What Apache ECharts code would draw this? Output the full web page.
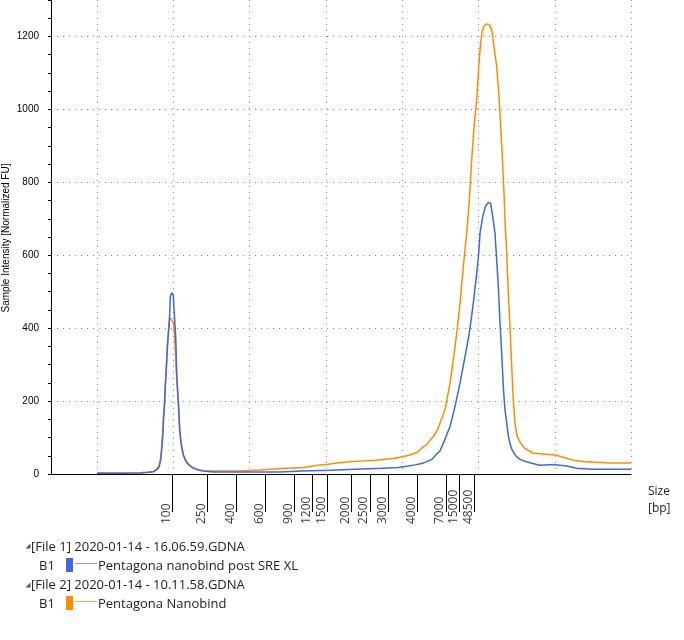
<!DOCTYPE html>
<html>
<head>
<meta charset="utf-8">
<script src="https://cdn.jsdelivr.net/npm/echarts@6/dist/echarts.min.js"></script>
<style>
html,body{margin:0;padding:0;background:#fff;}
#c{width:684px;height:640px;}
</style>
</head>
<body>
<div id="c"></div>
<script>
// migration position (arbitrary units along the trace) and ladder sizes
var ladderPos = [121.3, 156.3, 185.7, 214.3, 243.3, 261.3, 276.3, 300.7, 319, 337.3, 366.3, 395, 408.3, 423.3];
var ladderLabels = ['100', '250', '400', '600', '900', '1200', '1500', '2000', '2500', '3000', '4000', '7000', '15000', '48500'];
var gridPos = [46.3, 122.3, 198.3, 275.3, 351.3, 427.3, 504.3, 580];

// File 1: Pentagona nanobind post SRE XL
var blueX = [46, 69, 89, 95.7, 102.3, 106.3, 108.3, 109.7, 110.7, 111.7, 112.7, 113.7, 114.3, 115.3, 116.3, 117.7, 118.7, 119.3, 120.7, 121.3, 122.3, 123, 123.7, 124.7, 125.7, 126.7, 127.7, 128.7, 129.7, 130.7, 132.3, 134, 135.7, 139, 142.3, 147.3, 152.3, 162.3, 189, 209, 229, 250.7, 279, 310.7, 330.7, 347.3, 357.3, 364, 370.7, 375.7, 380.7, 385.7, 389, 392.3, 399, 404, 409, 414, 418.3, 422.3, 425.7, 427.7, 429, 431.7, 434.3, 437.3, 439.7, 441.7, 444, 445.7, 447.3, 449, 450.7, 452.3, 454, 455.7, 457.3, 459, 460.7, 463, 465.7, 469, 474, 479, 485.7, 489, 502.3, 515.7, 525.7, 542.3, 580];
var blueY = [2, 2, 2.5, 4, 6, 13, 20, 38, 66, 102, 157, 194, 244, 285, 349, 395, 441, 486, 497, 499, 491, 454, 422, 377, 276, 226, 185, 121, 93, 75, 52, 40, 31, 22, 16, 11, 8, 5.5, 5.5, 5.5, 5.5, 8, 10, 14, 16, 18, 22, 25, 29, 34, 40, 55, 63, 84, 130, 185, 249, 322, 386, 468, 550, 605, 660, 706, 733, 745, 742, 706, 660, 587, 514, 415, 331, 239, 175, 140, 105, 84, 68, 57, 47, 40, 35, 31, 26, 24, 26, 22, 16, 13, 13];

// File 2: Pentagona Nanobind
var orangeX = [46, 69, 89, 93, 98, 102.3, 106, 108, 109.5, 110.5, 111.5, 112.5, 113.5, 114.5, 115.5, 116.5, 117.5, 118.5, 119.5, 121.3, 122.3, 123, 124, 125, 126, 127, 128, 129, 130, 131, 132.5, 134, 136, 139, 142.3, 147.3, 152.3, 162.3, 189, 209, 222.3, 235.7, 252.3, 260.7, 269, 277.3, 285.7, 295.7, 312.3, 325.7, 335.7, 344, 352.3, 359, 365.7, 369, 372.3, 375.7, 379, 382.3, 384, 386.3, 388.3, 389, 394, 399, 402.3, 405.7, 409, 412.3, 415.7, 418.3, 420.7, 423, 425.7, 427.7, 429.3, 431, 433, 435.7, 438.3, 440.7, 443, 445.7, 448, 449.7, 451.3, 453, 454.3, 455.7, 457.3, 459, 460.7, 462.3, 464, 466.3, 469.7, 474, 482.3, 492.3, 504, 512.3, 522.3, 532.3, 559, 580];
var orangeY = [2.5, 2.5, 3, 5, 5, 7, 14, 24, 42, 70, 108, 160, 205, 250, 300, 350, 395, 420, 428, 425, 415, 400, 360, 300, 250, 205, 150, 110, 88, 70, 52, 42, 32, 23, 17, 12, 9, 8, 8, 11, 14, 16, 18, 21, 25, 27, 30, 33, 36, 38, 41, 43, 48, 52, 59, 66, 75, 80, 93, 102, 107, 121, 134, 140, 176, 249, 313, 386, 468, 569, 660, 751, 861, 952, 1026, 1117, 1172, 1213, 1229, 1234, 1233, 1218, 1172, 1117, 1035, 952, 870, 770, 678, 605, 496, 404, 294, 203, 139, 102, 84, 70, 57, 55, 52, 46, 38, 34, 30, 30];

var yTicks = {min: 0, max: 1300, interval: 200, minorInterval: 50};

function pairs(xs, ys) { return xs.map(function (x, i) { return [x, ys[i]]; }); }

var FONT = '"Open Sans", "Noto Sans", sans-serif';
var AFONT = '"Liberation Sans", Arial, sans-serif';
var dotted = {color: '#8a8a8a', width: 1, type: [1, 5]};

var chart = echarts.init(document.getElementById('c'), null, {renderer: 'canvas'});
chart.setOption({
  animation: false,
  backgroundColor: '#fff',
  grid: {left: 51, top: 0, right: 53, bottom: 166, containLabel: false, outerBoundsMode: 'none'},
  xAxis: [{
    type: 'value', min: 0, max: 580,
    axisLine: {show: true, lineStyle: {color: '#000', width: 1}},
    axisTick: {show: false, customValues: gridPos},
    axisLabel: {show: false},
    splitLine: {show: true, lineStyle: dotted}
  }, {
    type: 'value', min: 0, max: 580, position: 'bottom', offset: 13,
    axisLine: {show: false},
    axisTick: {show: true, inside: false, length: 38, customValues: ladderPos, lineStyle: {color: '#000', width: 1}},
    axisLabel: {
      show: true, customValues: ladderPos, rotate: 90, margin: 37, align: 'left', verticalAlign: 'bottom',
      fontFamily: FONT, fontSize: 12, color: '#3a3a3a',
      formatter: function (v) {
        for (var i = 0; i < ladderPos.length; i++) { if (Math.abs(ladderPos[i] - v) < 0.01) return ladderLabels[i]; }
        return '';
      }
    },
    splitLine: {show: false}
  }],
  yAxis: [{
    type: 'value', min: yTicks.min, max: yTicks.max, interval: yTicks.interval,
    axisLine: {show: true, lineStyle: {color: '#000', width: 1}},
    axisTick: {show: true, length: 3, lineStyle: {color: '#000'}},
    axisLabel: {show: true, margin: 12, showMaxLabel: false, fontFamily: AFONT, fontSize: 10, color: '#000',
      formatter: function (v) { return String(v); }},
    splitLine: {show: true, showMaxLine: false, lineStyle: dotted}
  }, {
    type: 'value', min: yTicks.min, max: yTicks.max, interval: yTicks.minorInterval, position: 'left',
    axisLine: {show: false},
    axisTick: {show: true, length: 3, lineStyle: {color: '#000'}},
    axisLabel: {show: false},
    splitLine: {show: false}
  }],
  series: [{
    name: 'Pentagona Nanobind', type: 'line', xAxisIndex: 0, yAxisIndex: 0,
    data: pairs(orangeX, orangeY), showSymbol: false, symbol: 'none',
    lineStyle: {color: '#FF8C00', width: 1.5}, z: 2
  }, {
    name: 'Pentagona nanobind post SRE XL', type: 'line', xAxisIndex: 0, yAxisIndex: 0,
    data: pairs(blueX, blueY), showSymbol: false, symbol: 'none',
    lineStyle: {color: '#3F68E0', width: 1.5}, z: 3
  }],
  graphic: [
    {type: 'text', x: 6.5, y: 238, rotation: Math.PI / 2, style: {text: 'Sample Intensity [Normalized FU]', fontFamily: AFONT, fontSize: 10, fill: '#000', align: 'center', verticalAlign: 'middle'}},
    {type: 'text', left: 648, top: 483, style: {text: 'Size\n[bp]', fontFamily: FONT, fontSize: 12, lineHeight: 17, fill: '#222'}},
    {type: 'polygon', shape: {points: [[30.5, 543.5], [30.5, 548.5], [25.5, 548.5]]}, style: {fill: '#555'}},
    {type: 'text', x: 31, y: 547, style: {text: '[File 1] 2020-01-14 - 16.06.59.GDNA', fontFamily: FONT, fontSize: 13, fill: '#222', verticalAlign: 'middle'}},
    {type: 'text', x: 39, y: 566, style: {text: 'B1', fontFamily: FONT, fontSize: 13, fill: '#222', verticalAlign: 'middle'}},
    {type: 'rect', shape: {x: 66, y: 558, width: 7, height: 14}, style: {fill: '#3F68E0'}},
    {type: 'line', shape: {x1: 75, y1: 563.5, x2: 97, y2: 563.5}, style: {stroke: '#7D9BF0', lineWidth: 1}},
    {type: 'text', x: 98, y: 566, style: {text: 'Pentagona nanobind post SRE XL', fontFamily: FONT, fontSize: 13, fill: '#222', verticalAlign: 'middle'}},
    {type: 'polygon', shape: {points: [[30.5, 582.5], [30.5, 587.5], [25.5, 587.5]]}, style: {fill: '#555'}},
    {type: 'text', x: 31, y: 585.5, style: {text: '[File 2] 2020-01-14 - 10.11.58.GDNA', fontFamily: FONT, fontSize: 13, fill: '#222', verticalAlign: 'middle'}},
    {type: 'text', x: 39, y: 604, style: {text: 'B1', fontFamily: FONT, fontSize: 13, fill: '#222', verticalAlign: 'middle'}},
    {type: 'rect', shape: {x: 66, y: 596, width: 7, height: 14}, style: {fill: '#FF8C00'}},
    {type: 'line', shape: {x1: 75, y1: 601.5, x2: 97, y2: 601.5}, style: {stroke: '#FFAA4A', lineWidth: 1}},
    {type: 'text', x: 98, y: 604, style: {text: 'Pentagona Nanobind', fontFamily: FONT, fontSize: 13, fill: '#222', verticalAlign: 'middle'}}
  ]
});
</script>
</body>
</html>
